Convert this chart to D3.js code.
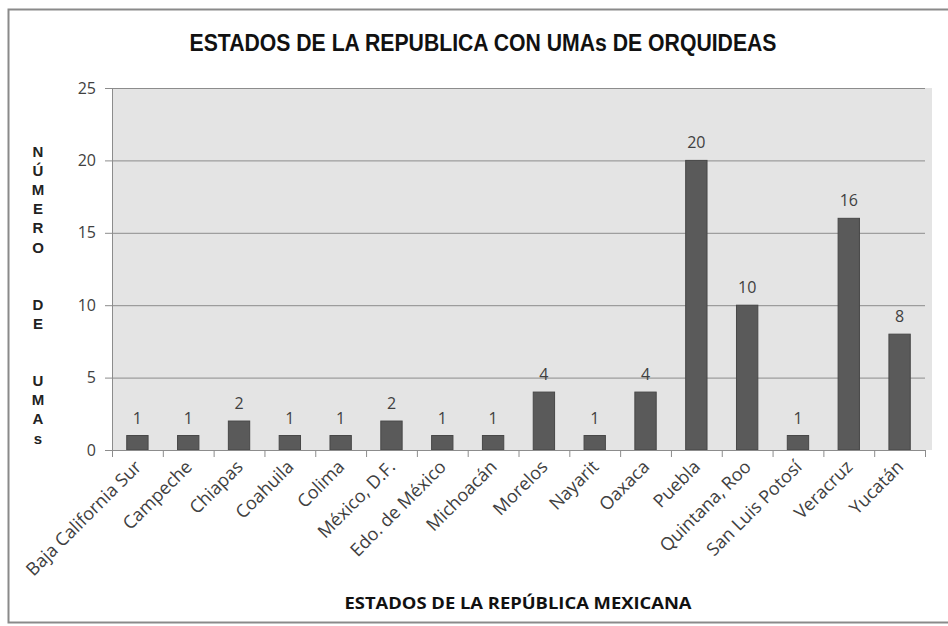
<!DOCTYPE html>
<html>
<head>
<meta charset="utf-8">
<script src="https://cdn.jsdelivr.net/npm/d3@7"></script>
<style>
  body { margin: 0; background: #fff; }
  svg { display: block; }
</style>
</head>
<body>
<svg id="chart" width="948" height="626"></svg>
<script>
// data
const estados = ["Baja California Sur", "Campeche", "Chiapas", "Coahuila", "Colima",
    "México, D.F.", "Edo. de México", "Michoacán", "Morelos", "Nayarit", "Oaxaca",
    "Puebla", "Quintana, Roo", "San Luis Potosí", "Veracruz", "Yucatán"];
const umas = [1, 1, 2, 1, 1, 2, 1, 1, 4, 1, 4, 20, 10, 1, 16, 8];
const yTicks = [0, 5, 10, 15, 20, 25];
const yTitleLetters = ["N", "Ú", "M", "E", "R", "O", "", "", "D", "E", "", "", "U", "M", "A", "s"];

const titulo = "ESTADOS DE LA REPUBLICA CON UMAs DE ORQUIDEAS";
const xTitulo = "ESTADOS DE LA REPÚBLICA MEXICANA";

const svg = d3.select("#chart");
const width = 948, height = 626;
const margin = { top: 88, right: 23, bottom: 176, left: 112 };
const textColor = "#404040";
const font = "'Open Sans', Lato, sans-serif";

// outer frame (right edge runs off the picture)
svg.append("rect")
    .attr("x", 8.5).attr("y", 9.5)
    .attr("width", 950).attr("height", 613)
    .attr("fill", "#fff")
    .attr("stroke", "#8a8a8a")
    .attr("stroke-width", 2);

const x = d3.scaleBand()
    .domain(estados)
    .range([margin.left, width - margin.right])
    .paddingInner(0.58)
    .paddingOuter(0.29);

const y = d3.scaleLinear()
    .domain([0, 25])
    .range([height - margin.bottom, margin.top]);

// plot background
svg.append("rect")
    .attr("x", margin.left)
    .attr("y", margin.top)
    .attr("width", width - margin.right - margin.left + 7)
    .attr("height", y(0) - margin.top)
    .attr("fill", "#e4e4e4");

// y axis
const yAxis = svg.append("g")
    .attr("transform", `translate(${margin.left},0)`)
    .call(d3.axisLeft(y).tickValues(yTicks).tickSize(7).tickPadding(9));
yAxis.select(".domain").attr("stroke", "#8c8c8c");
yAxis.selectAll(".tick line").attr("stroke", "#8c8c8c");
yAxis.selectAll(".tick text")
    .attr("fill", textColor)
    .attr("font-family", font)
    .attr("font-size", 16);

// gridlines
svg.append("g")
    .selectAll("line")
    .data(yTicks.filter(d => d > 0))
    .join("line")
    .attr("x1", margin.left)
    .attr("x2", width - margin.right)
    .attr("y1", d => y(d) + 0.5)
    .attr("y2", d => y(d) + 0.5)
    .attr("stroke", "#8c8c8c");

// bars
svg.append("g")
    .selectAll("rect")
    .data(umas)
    .join("rect")
    .attr("x", (d, i) => x(estados[i]))
    .attr("y", d => y(d))
    .attr("width", x.bandwidth())
    .attr("height", d => y(0) - y(d))
    .attr("fill", "#5a5a5a")
    .attr("stroke", "#474747")
    .attr("stroke-width", 1);

// value labels
svg.append("g")
    .selectAll("text")
    .data(umas)
    .join("text")
    .attr("x", (d, i) => x(estados[i]) + x.bandwidth() / 2)
    .attr("y", d => y(d) - 12)
    .attr("text-anchor", "middle")
    .attr("fill", textColor)
    .attr("font-family", font)
    .attr("font-size", 16)
    .text(d => d);

// x axis with ticks at category boundaries
const step = x.step();
const xAxisG = svg.append("g");
xAxisG.append("line")
    .attr("x1", margin.left).attr("x2", width - margin.right)
    .attr("y1", y(0) + 0.5).attr("y2", y(0) + 0.5)
    .attr("stroke", "#8c8c8c");
xAxisG.selectAll("line.tk")
    .data(d3.range(estados.length + 1))
    .join("line")
    .attr("class", "tk")
    .attr("x1", i => margin.left + i * step + 0.5)
    .attr("x2", i => margin.left + i * step + 0.5)
    .attr("y1", y(0))
    .attr("y2", y(0) + 7)
    .attr("stroke", "#8c8c8c");

xAxisG.selectAll("text")
    .data(estados)
    .join("text")
    .attr("transform", d => `translate(${x(d) + x.bandwidth() / 2 + 5},${y(0) + 18}) rotate(-45)`)
    .attr("text-anchor", "end")
    .attr("fill", textColor)
    .attr("font-family", font)
    .attr("font-size", 18)
    .text(d => d);

// title
svg.append("text")
    .attr("x", 483)
    .attr("y", 51)
    .attr("text-anchor", "middle")
    .attr("font-family", "'Liberation Sans Narrow', 'Arial Narrow', sans-serif")
    .attr("font-weight", "bold")
    .attr("font-size", 23)
    .attr("fill", "#111")
    .attr("textLength", 587)
    .attr("lengthAdjust", "spacingAndGlyphs")
    .text(titulo);

// x axis title
svg.append("text")
    .attr("x", 518)
    .attr("y", 609)
    .attr("text-anchor", "middle")
    .attr("font-family", font)
    .attr("font-weight", "bold")
    .attr("font-size", 16)
    .attr("fill", "#111")
    .attr("textLength", 347)
    .attr("lengthAdjust", "spacingAndGlyphs")
    .text(xTitulo);

// stacked y axis title
svg.append("g")
    .selectAll("text")
    .data(yTitleLetters)
    .join("text")
    .attr("x", 38)
    .attr("y", (d, i) => 157 + i * 19.1)
    .attr("text-anchor", "middle")
    .attr("font-family", "'Liberation Sans Narrow', 'Arial Narrow', sans-serif")
    .attr("font-weight", "bold")
    .attr("font-size", 15)
    .attr("fill", "#222")
    .text(d => d);
</script>
</body>
</html>
